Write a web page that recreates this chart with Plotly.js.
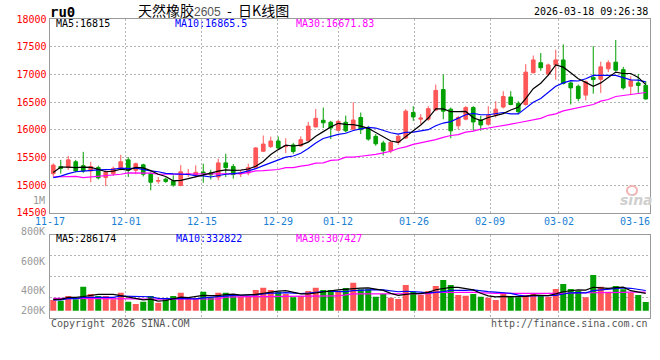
<!DOCTYPE html>
<html><head><meta charset="utf-8">
<script src="https://cdn.plot.ly/plotly-3.0.1.min.js"></script>
<style>html,body{margin:0;padding:0;background:#fff}#chart{width:660px;height:360px}</style>
</head><body><div id="chart"></div>
<script>
// ---------------- data ----------------
const dates = [
 '2025-11-17','2025-11-18','2025-11-19','2025-11-20','2025-11-21','2025-11-24','2025-11-25','2025-11-26','2025-11-27','2025-11-28',
 '2025-12-01','2025-12-02','2025-12-03','2025-12-04','2025-12-05','2025-12-08','2025-12-09','2025-12-10','2025-12-11','2025-12-12',
 '2025-12-15','2025-12-16','2025-12-17','2025-12-18','2025-12-19','2025-12-22','2025-12-23','2025-12-24','2025-12-25','2025-12-26',
 '2025-12-29','2025-12-30','2025-12-31','2026-01-05','2026-01-06','2026-01-07','2026-01-08','2026-01-09',
 '2026-01-12','2026-01-13','2026-01-14','2026-01-15','2026-01-16','2026-01-19','2026-01-20','2026-01-21','2026-01-22','2026-01-23',
 '2026-01-26','2026-01-27','2026-01-28','2026-01-29','2026-01-30','2026-02-02','2026-02-03','2026-02-04','2026-02-05','2026-02-06',
 '2026-02-09','2026-02-10','2026-02-11','2026-02-12','2026-02-13','2026-02-24','2026-02-25','2026-02-26','2026-02-27',
 '2026-03-02','2026-03-03','2026-03-04','2026-03-05','2026-03-06','2026-03-09','2026-03-10','2026-03-11','2026-03-12','2026-03-13',
 '2026-03-16','2026-03-17','2026-03-18'];

const openP = [15205,15335,15315,15420,15350,15255,15315,15135,15205,15290,
 15455,15265,15365,15205,15070,15105,15075,14990,15195,15175,
 15235,15220,15145,15400,15335,15200,15220,15315,15610,15695,
 15795,15695,15725,15705,15800,16050,16170,16135,15990,16135,
 16010,16220,16025,15880,15760,15620,15770,15850,16310,16190,
 16190,16355,16725,16370,16070,16190,16400,16175,16100,16260,
 16410,16590,16475,16455,17030,17210,17005,17170,17260,16845,
 16785,16625,16945,16910,17100,17220,17085,16785,16845,16800];
const highP = [15390,15455,15525,15455,15600,15420,15350,15265,15335,15545,
 15505,15405,15385,15230,15145,15135,15175,15360,15290,15355,
 15385,15275,15475,15565,15380,15265,15385,15685,15895,15875,
 15875,15845,15760,15880,16140,16375,16400,16160,16170,16255,
 16495,16310,16070,15920,15800,15800,15920,16370,16425,16280,
 16425,16815,17000,16400,16250,16425,16425,16250,16425,16515,
 16695,16695,16515,17185,17340,17385,17195,17445,17540,16875,
 16815,16890,17510,17230,17255,17620,17135,16965,17005,16875];
const lowP = [15150,15205,15275,15230,15220,15050,15100,14980,15165,15265,
 15145,15195,15155,14905,15025,15040,14970,14980,15145,15135,
 15040,15100,15085,15145,15115,15145,15175,15300,15595,15670,
 15655,15575,15565,15695,15785,16040,16030,15830,15970,15950,
 16010,15920,15800,15710,15535,15575,15725,15830,16160,16100,
 16160,16335,16190,15845,16010,16170,15980,15980,16070,16220,
 16385,16440,16280,16435,17015,17065,16980,16905,16815,16455,
 16515,16530,16650,16665,17040,17055,16725,16625,16665,16545];
const closeP = [15360,15300,15455,15255,15255,15335,15130,15230,15300,15420,
 15265,15385,15195,15050,15080,15065,15000,15240,15205,15230,
 15205,15185,15400,15315,15190,15220,15315,15670,15740,15795,
 15670,15710,15605,15820,16065,16205,16125,16030,16150,15980,
 16175,16000,15830,15745,15620,15770,15880,16335,16230,16210,
 16380,16710,16335,15980,16220,16400,16140,16085,16260,16370,
 16600,16455,16325,17040,17260,17120,17170,17260,16835,16755,
 16565,16865,16905,17135,17210,17075,16755,16885,16800,16555];

const ma5 = [15225,15325,15325,15315,15325,15320,15285,15240,15250,15285,
 15270,15320,15310,15260,15195,15155,15075,15085,15115,15145,
 15175,15215,15250,15275,15265,15270,15290,15340,15425,15550,
 15640,15720,15705,15720,15775,15880,15965,16050,16115,16095,
 16090,16065,16025,15945,15875,15795,15770,15870,15970,16085,
 16210,16375,16375,16325,16325,16330,16215,16165,16220,16250,
 16290,16355,16405,16560,16740,16840,16985,17170,17130,17030,
 16920,16855,16785,16845,16935,17040,17015,17015,16945,16815];
const ma10 = [15135,15160,15205,15240,15250,15265,15275,15280,15285,15305,
 15295,15305,15275,15255,15240,15210,15200,15200,15190,15170,
 15165,15145,15170,15195,15205,15220,15255,15295,15350,15405,
 15455,15505,15525,15575,15660,15760,15840,15875,15915,15935,
 15985,16015,16040,16030,15985,15945,15920,15950,15955,15980,
 16000,16070,16120,16145,16205,16270,16295,16270,16270,16290,
 16310,16285,16285,16390,16495,16565,16670,16785,16845,16885,
 16880,16920,16980,16985,16980,16980,16935,16900,16895,16865.5];
const ma30 = [15145,15145,15155,15155,15135,15145,15165,15165,15180,15195,
 15220,15220,15220,15215,15195,15195,15195,15195,15195,15195,
 15195,15195,15205,15205,15205,15205,15225,15255,15260,15275,
 15280,15315,15315,15340,15360,15395,15400,15445,15455,15505,
 15505,15520,15535,15555,15580,15610,15660,15690,15735,15760,
 15795,15820,15860,15895,15910,15955,15975,16010,16030,16050,
 16075,16100,16125,16155,16185,16205,16260,16285,16340,16370,
 16405,16425,16455,16515,16545,16600,16620,16635,16655,16671.83];

const volume = [177000,165000,243000,188000,396000,276000,243000,243000,188000,297000,
 149000,111000,149000,243000,132000,205000,243000,297000,205000,205000,
 314000,221000,297000,297000,243000,231000,243000,342000,380000,342000,
 314000,276000,221000,243000,325000,380000,342000,342000,330000,375000,
 462000,353000,353000,231000,276000,215000,193000,424000,314000,259000,
 325000,408000,507000,424000,259000,248000,276000,231000,215000,177000,
 287000,243000,221000,259000,276000,259000,231000,358000,441000,358000,
 325000,221000,589000,396000,314000,408000,353000,297000,259000,144000];
const volMa5 = [188000,188000,221000,221000,234000,254000,269000,269000,269000,249000,
 224000,198000,179000,190000,157000,168000,194000,224000,216000,231000,
 253000,248000,248000,267000,274000,258000,262000,271000,288000,308000,
 324000,331000,307000,279000,276000,289000,302000,326000,344000,354000,
 370000,372000,375000,355000,335000,286000,254000,268000,284000,281000,
 303000,346000,363000,385000,385000,369000,343000,288000,246000,229000,
 237000,231000,229000,237000,257000,252000,249000,277000,313000,329000,
 343000,341000,387000,378000,369000,382000,388000,330000,302000,286174];
const volMa10 = [177000,177000,198000,198000,221000,221000,221000,221000,221000,242000,
 239000,233000,224000,230000,203000,196000,196000,201000,203000,194000,
 210000,221000,236000,242000,253000,255000,255000,260000,277000,291000,
 291000,297000,289000,284000,292000,307000,317000,317000,312000,315000,
 330000,337000,351000,349000,344000,328000,313000,321000,320000,308000,
 294000,300000,315000,335000,333000,336000,344000,325000,315000,307000,
 303000,287000,258000,242000,243000,244000,240000,253000,275000,293000,
 297000,295000,332000,345000,349000,364000,376000,370000,352000,332822];
const volMa30 = [205000,205000,205000,205000,205000,205000,205000,205000,205000,205000,
 200000,195000,190000,190000,190000,190000,190000,190000,190000,190000,
 190000,190000,195000,225000,231000,231000,231000,231000,231000,231000,
 231000,231000,231000,231000,231000,231000,235000,243000,243000,260000,
 276000,276000,276000,276000,276000,276000,276000,276000,276000,276000,
 280000,300000,304000,304000,304000,304000,304000,295000,290000,287000,
 287000,287000,287000,280000,276000,276000,276000,276000,285000,292000,
 292000,292000,292000,295000,298000,300000,303000,305000,306000,307427];

const priceTicks = [14500,15000,15500,16000,16500,17000,17500,18000];
const dateLabels = ['11-17','12-01','12-15','12-29','01-12','01-26','02-09','03-02','03-16'];
const volLabels = ['800K','600K','400K','200K'];

// ---------------- styling / layout ----------------
const RED = '#fe5757', GREEN = '#00a000';
const MONO = 'DejaVu Sans Mono, Liberation Mono, monospace';
const W = 660, H = 360;
const px = v => v / W, py = v => 1 - v / H;
const GRID = '#b4b4b4', BORDER = '#9a9a9a';
const STRETCH = 76 / 75;   // Sina's date grid is spaced slightly wider than the candles

const idx = dates.map((d, i) => i);
const volColors = idx.map(i => closeP[i] >= openP[i] ? RED : GREEN);
const labelPos = dateLabels.map(l => dates.findIndex(d => d.slice(5) === l) * STRETCH - 0.5);
const gridPos = labelPos.slice(1, -1);

const traces = [
  {type:'candlestick', x: idx, open: openP, high: highP, low: lowP, close: closeP,
   xaxis:'x', yaxis:'y', whiskerwidth: 0, hoverinfo:'skip',
   increasing:{line:{color:RED, width:1}, fillcolor:RED},
   decreasing:{line:{color:GREEN, width:1}, fillcolor:GREEN}},
  {type:'scatter', mode:'lines', x: idx, y: ma30, xaxis:'x', yaxis:'y', line:{color:'#ff00ff', width:1.2}, hoverinfo:'skip'},
  {type:'scatter', mode:'lines', x: idx, y: ma10, xaxis:'x', yaxis:'y', line:{color:'#0000ff', width:1.2}, hoverinfo:'skip'},
  {type:'scatter', mode:'lines', x: idx, y: ma5, xaxis:'x', yaxis:'y', line:{color:'#000000', width:1.2}, hoverinfo:'skip'},
  {type:'bar', x: idx, y: volume, xaxis:'x2', yaxis:'y2', width:0.8, marker:{color: volColors, line:{width:0}}, hoverinfo:'skip'},
  {type:'scatter', mode:'lines', x: idx, y: volMa30, xaxis:'x2', yaxis:'y2', line:{color:'#ff00ff', width:1.2}, hoverinfo:'skip'},
  {type:'scatter', mode:'lines', x: idx, y: volMa10, xaxis:'x2', yaxis:'y2', line:{color:'#0000ff', width:1.2}, hoverinfo:'skip'},
  {type:'scatter', mode:'lines', x: idx, y: volMa5, xaxis:'x2', yaxis:'y2', line:{color:'#000000', width:1.2}, hoverinfo:'skip'}
];

const xDomain = [px(49.5), px(649.5)];
const volRange = [-125400, 1254000];
const volGrid = [0.25, 0.5, 0.75].map(f => volRange[0] + f * (volRange[1] - volRange[0]));

const baseX = {domain: xDomain, range:[-0.5, 79.5], showline:true, mirror:true, linecolor:BORDER, linewidth:1,
  showgrid:true, gridcolor:GRID, griddash:'2px,2px', gridwidth:1, tickvals: gridPos, showticklabels:false,
  ticks:'', zeroline:false, fixedrange:true, automargin:false};

const annotations = [];
const addText = (x, y, text, color, size, anchor, extra) => annotations.push(Object.assign({
  xref:'paper', yref:'paper', x: px(x), y: py(y), text, showarrow:false, xanchor: anchor, yanchor:'middle',
  borderpad:0, font:{family: MONO, size, color}}, extra || {}));

// header
addText(49, 12, '<b>ru0</b>', '#000', 14, 'left');
addText(213, 10, '天然橡胶<span style="font-family:Liberation Sans, Arial;font-size:12px;color:#555">2605</span>  -  日K线图', '#000', 14, 'center',
  {font:{family:'Noto Sans CJK SC, sans-serif', size:14, color:'#000'}});
addText(649, 12, '2026-03-18 09:26:38', '#000', 10, 'right');
// main MA legend
addText(55, 24, 'MA5:' + ma5[ma5.length-1], '#000', 10, 'left');
addText(174, 24, 'MA10:' + ma10[ma10.length-1], '#0000ff', 10, 'left');
addText(295, 24, 'MA30:' + ma30[ma30.length-1], '#ff00ff', 10, 'left');
// volume MA legend
addText(55, 238, 'MA5:' + volMa5[volMa5.length-1], '#000', 10, 'left');
addText(175, 238, 'MA10:' + volMa10[volMa10.length-1], '#0000ff', 10, 'left');
addText(295, 238, 'MA30:' + volMa30[volMa30.length-1], '#ff00ff', 10, 'left');
// volume labels
const volLabelY = [231, 261, 290.7, 310];
volLabels.forEach((t, i) => addText(46, volLabelY[i], t, '#999', 10, 'right'));
addText(46, 200, '1M', '#999', 10, 'right');
// footer
addText(50, 323.5, 'Copyright 2026 SINA.COM', '#555', 10, 'left');
addText(649, 323.5, 'http://finance.sina.com.cn', '#555', 10, 'right');
// watermark
addText(636, 200, '<b><i>sina</i></b>', '#cfcfcf', 14, 'center', {font:{family:'DejaVu Sans, sans-serif', size:14, color:'#cfcfcf'}});
// date labels
dateLabels.forEach((t, i) => annotations.push({xref:'x', yref:'paper', x: labelPos[i], y: py(221.5), text: t,
  showarrow:false, xanchor:'center', yanchor:'middle', borderpad:0, font:{family: MONO, size:10, color:'#1a7fd4'}}));

const layout = {
  width: W, height: H, margin:{l:0, r:0, t:0, b:0}, paper_bgcolor:'#fff', plot_bgcolor:'#fff',
  showlegend:false, font:{family: MONO},
  xaxis: Object.assign({}, baseX, {anchor:'y', rangeslider:{visible:false}}),
  xaxis2: Object.assign({}, baseX, {anchor:'y2'}),
  yaxis: {domain:[py(212.7), py(19)], range:[14500, 18000], tickvals: priceTicks, ticktext: priceTicks.map(String),
    tickfont:{family: MONO, size:10, color:'#ff0000'}, showline:true, mirror:true, linecolor:BORDER, linewidth:1,
    showgrid:true, gridcolor:GRID, griddash:'2px,2px', zeroline:false, ticks:'', fixedrange:true, automargin:false},
  yaxis2: {domain:[py(318.3), py(234.7)], range: volRange, tickvals: volGrid, showticklabels:false,
    showline:true, mirror:true, linecolor:BORDER, linewidth:1, showgrid:true, gridcolor:GRID, griddash:'2px,2px',
    zeroline:false, ticks:'', fixedrange:true, automargin:false},
  annotations,
  shapes: [{type:'circle', xref:'paper', yref:'paper', x0: px(627), x1: px(637), y0: py(195), y1: py(186),
    line:{color:'#f3b3b3', width:2}}]
};

Plotly.newPlot('chart', traces, layout, {displayModeBar:false, staticPlot:true});
</script></body></html>
